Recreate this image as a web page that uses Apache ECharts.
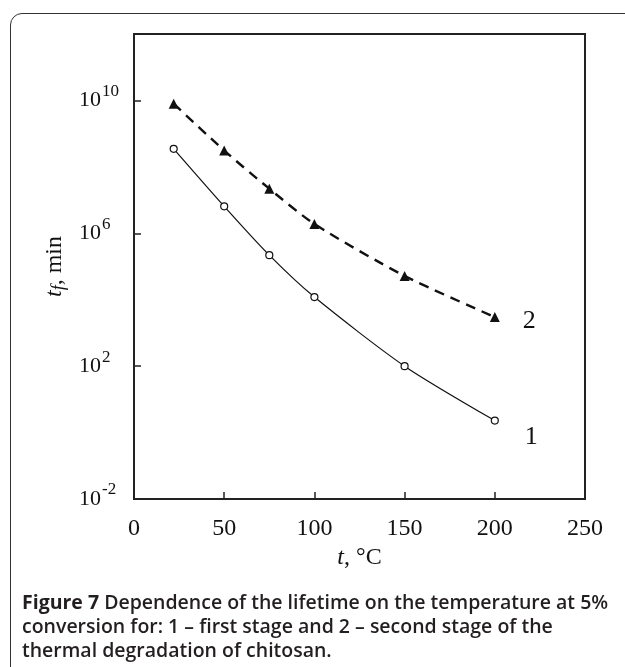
<!DOCTYPE html>
<html lang="en">
<head>
    <meta charset="UTF-8">
    <title>Figure 7</title>
    <script src="https://cdn.jsdelivr.net/npm/echarts@6/dist/echarts.min.js"></script>
    <style>
        body { margin: 0; padding: 0; width: 625px; height: 667px; overflow: hidden; background: #fff; position: relative; }
        #frame { position: absolute; left: 10px; top: 13px; width: 700px; height: 700px; border: 1.5px solid #333; border-radius: 12px; }
        #chart { position: absolute; left: 0; top: 0; width: 625px; height: 590px; }
        #caption { position: absolute; left: 22px; top: 590px; font-family: "Open Sans", sans-serif; font-size: 19.5px; font-weight: 600; line-height: 24px; color: #231f20; white-space: nowrap; }
        #caption b { font-weight: 700; }
    </style>
</head>
<body>
    <div id="frame"></div>
    <div id="chart"></div>
    <div id="caption"><b>Figure 7</b> Dependence of the lifetime on the temperature at 5%<br>conversion for: 1 – first stage and 2 – second stage of the<br>thermal degradation of chitosan.</div>

    <script>
        // temperature, °C
        const temps = [22, 50, 75, 100, 150, 200];
        // lifetime t_f, min
        const stage1 = [3.5e8, 6.5e6, 2.2e5, 1.2e4, 100, 2.3];
        const stage2 = [8.0e9, 3.1e8, 2.2e7, 1.9e6, 5.2e4, 3.0e3];
        // labelled powers of ten on the y axis
        const yPowers = [-2, 2, 6, 10];

        const serif = '"Liberation Serif", "DejaVu Serif", serif';
        const chart = echarts.init(document.getElementById('chart'));

        chart.setOption({
            animation: false,
            grid: { left: 134, right: 40, top: 34, bottom: 91, show: true, borderColor: '#222', borderWidth: 2 },
            xAxis: {
                type: 'value', min: 0, max: 250, interval: 50,
                axisLine: { lineStyle: { color: '#222', width: 2 } },
                axisTick: { inside: true, length: 7, lineStyle: { color: '#222', width: 1.5 } },
                splitLine: { show: false },
                axisLabel: { color: '#111', fontFamily: serif, fontSize: 24, margin: 18 },
                name: '{i|t}, °C',
                nameLocation: 'middle',
                nameGap: 46,
                nameTextStyle: {
                    color: '#111', fontFamily: serif, fontSize: 24,
                    rich: { i: { fontFamily: serif, fontSize: 24, fontStyle: 'italic', color: '#111' } }
                }
            },
            yAxis: {
                type: 'log', logBase: 10, min: 0.01, max: 1e12, interval: 4,
                axisLine: { lineStyle: { color: '#222', width: 2 } },
                axisTick: { inside: true, length: 7, lineStyle: { color: '#222', width: 1.5 } },
                splitLine: { show: false },
                minorTick: { show: false },
                axisLabel: {
                    align: 'left', margin: 55,
                    formatter: function (v) {
                        const e = Math.round(Math.log10(v));
                        return yPowers.indexOf(e) >= 0 ? '{b|10}{s|' + e + '}' : '';
                    },
                    rich: {
                        b: { fontFamily: serif, fontSize: 22, color: '#111' },
                        s: { fontFamily: serif, fontSize: 17, color: '#111', padding: [0, 0, 18, 1] }
                    }
                },
                name: '{i|t}{f|f}, min',
                nameLocation: 'middle',
                nameGap: 66,
                nameRotate: 90,
                nameTextStyle: {
                    color: '#111', fontFamily: serif, fontSize: 24,
                    rich: {
                        i: { fontFamily: serif, fontSize: 24, fontStyle: 'italic', color: '#111' },
                        f: { fontFamily: serif, fontSize: 18, fontStyle: 'italic', color: '#111', padding: [8, 0, 0, 0] }
                    }
                }
            },
            series: [
                {
                    name: '1', type: 'line', smooth: 0.25,
                    data: temps.map((t, i) => [t, stage1[i]]),
                    symbol: 'circle', symbolSize: 7,
                    itemStyle: { color: '#fff', borderColor: '#111', borderWidth: 1.2 },
                    lineStyle: { color: '#111', width: 1.2 },
                    endLabel: { show: true, formatter: '1', fontFamily: serif, fontSize: 26, color: '#111', distance: 0, offset: [30, 17] }
                },
                {
                    name: '2', type: 'line', smooth: 0.25,
                    data: temps.map((t, i) => [t, stage2[i]]),
                    symbol: 'triangle', symbolSize: 10,
                    itemStyle: { color: '#111' },
                    lineStyle: { color: '#111', width: 2.4, type: [10, 7] },
                    endLabel: { show: true, formatter: '2', fontFamily: serif, fontSize: 26, color: '#111', distance: 0, offset: [28, 4] }
                }
            ]
        });
    </script>
</body>
</html>
